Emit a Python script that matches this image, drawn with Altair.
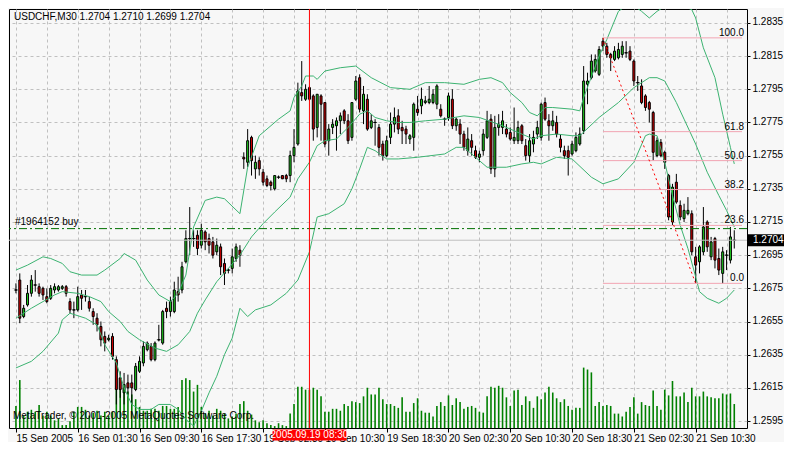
import json
import altair as alt
import pandas as pd

symbol = "USDCHF"
timeframe = "M30"

opens = [1.2674,1.2680,1.2658,1.2665,1.2672,1.2677,1.2676,1.2675,1.2670,1.2669,
1.2674,1.2674,1.2675,1.2676,1.2667,1.2662,1.2662,1.2671,1.2670,1.2667,
1.2661,1.2657,1.2652,1.2646,1.2644,1.2646,1.2632,1.2621,1.2612,1.2618,
1.2618,1.2614,1.2625,1.2630,1.2638,1.2640,1.2632,1.2644,1.2642,1.2663,
1.2661,1.2661,1.2673,1.2674,1.2691,1.2705,1.2705,1.2707,1.2701,1.2709,
1.2705,1.2703,1.2697,1.2700,1.2690,1.2686,1.2687,1.2693,1.2698,1.2754,
1.2751,1.2766,1.2747,1.2752,1.2745,1.2741,1.2739,1.2735,1.2742,1.2743,
1.2743,1.2743,1.2755,1.2762,1.2793,1.2789,1.2796,1.2791,1.2772,1.2791,
1.2787,1.2764,1.2772,1.2773,1.2776,1.2782,1.2776,1.2766,1.2789,1.2802,
1.2782,1.2789,1.2772,1.2775,1.2772,1.2762,1.2755,1.2766,1.2774,1.2779,
1.2772,1.2771,1.2765,1.2766,1.2783,1.2785,1.2787,1.2787,1.2787,1.2786,
1.2783,1.2777,1.2778,1.2789,1.2773,1.2774,1.2768,1.2758,1.2764,1.2758,
1.2754,1.2758,1.2766,1.2777,1.2747,1.2772,1.2772,1.2771,1.2769,1.2764,
1.2764,1.2773,1.2761,1.2755,1.2762,1.2768,1.2766,1.2787,1.2776,1.2773,
1.2775,1.2765,1.2758,1.2758,1.2756,1.2758,1.2762,1.2770,1.2798,1.2802,
1.2806,1.2804,1.2824,1.2821,1.2816,1.2813,1.2814,1.2816,1.2817,1.2818,
1.2812,1.2799,1.2797,1.2791,1.2787,1.2781,1.2755,1.2763,1.2757,1.2743,
1.2715,1.2739,1.2725,1.2717,1.2720,1.2720,1.2694,1.2691,1.2697,1.2715,
1.2694,1.2705,1.2693,1.2684,1.2695,1.2692,1.2704]

highs = [1.2678,1.2684,1.2665,1.2677,1.2683,1.2686,1.2678,1.2676,1.2675,1.2677,
1.2678,1.2677,1.2677,1.2677,1.2669,1.2667,1.2676,1.2674,1.2674,1.2670,
1.2663,1.2660,1.2655,1.2649,1.2647,1.2648,1.2634,1.2625,1.2624,1.2623,
1.2623,1.2630,1.2634,1.2643,1.2643,1.2642,1.2643,1.2653,1.2662,1.2667,
1.2670,1.2679,1.2682,1.2691,1.2710,1.2724,1.2710,1.2710,1.2714,1.2710,
1.2708,1.2706,1.2705,1.2702,1.2693,1.2687,1.2699,1.2702,1.2701,1.2757,
1.2771,1.2767,1.2755,1.2754,1.2747,1.2743,1.2740,1.2743,1.2743,1.2743,
1.2744,1.2758,1.2771,1.2799,1.2812,1.2798,1.2797,1.2792,1.2792,1.2792,
1.2787,1.2774,1.2777,1.2778,1.2781,1.2783,1.2780,1.2787,1.2803,1.2804,
1.2797,1.2792,1.2780,1.2777,1.2774,1.2764,1.2767,1.2781,1.2784,1.2783,
1.2776,1.2773,1.2768,1.2787,1.2791,1.2796,1.2791,1.2797,1.2795,1.2798,
1.2786,1.2778,1.2793,1.2795,1.2778,1.2777,1.2770,1.2772,1.2768,1.2761,
1.2758,1.2771,1.2782,1.2780,1.2779,1.2780,1.2782,1.2774,1.2772,1.2784,
1.2776,1.2774,1.2765,1.2768,1.2770,1.2776,1.2787,1.2790,1.2780,1.2782,
1.2779,1.2768,1.2761,1.2761,1.2764,1.2769,1.2772,1.2809,1.2805,1.2816,
1.2816,1.2821,1.2826,1.2823,1.2817,1.2821,1.2823,1.2824,1.2824,1.2821,
1.2813,1.2803,1.2801,1.2792,1.2788,1.2782,1.2766,1.2765,1.2758,1.2744,
1.2738,1.2744,1.2728,1.2726,1.2730,1.2722,1.2700,1.2701,1.2724,1.2716,
1.2706,1.2706,1.2699,1.2700,1.2698,1.2712,1.2710]

lows = [1.2672,1.2654,1.2657,1.2664,1.2670,1.2673,1.2670,1.2668,1.2666,1.2668,
1.2672,1.2673,1.2674,1.2670,1.2660,1.2657,1.2661,1.2662,1.2667,1.2661,
1.2653,1.2649,1.2640,1.2637,1.2643,1.2632,1.2605,1.2609,1.2605,1.2611,
1.2605,1.2613,1.2624,1.2628,1.2637,1.2631,1.2631,1.2643,1.2641,1.2657,
1.2658,1.2660,1.2667,1.2672,1.2690,1.2695,1.2700,1.2695,1.2699,1.2698,
1.2696,1.2693,1.2695,1.2683,1.2677,1.2684,1.2684,1.2691,1.2688,1.2747,
1.2748,1.2743,1.2741,1.2743,1.2737,1.2736,1.2734,1.2734,1.2741,1.2741,
1.2739,1.2739,1.2751,1.2761,1.2788,1.2788,1.2788,1.2764,1.2766,1.2764,
1.2760,1.2755,1.2768,1.2758,1.2768,1.2774,1.2762,1.2764,1.2788,1.2781,
1.2774,1.2770,1.2771,1.2761,1.2755,1.2752,1.2754,1.2762,1.2769,1.2768,
1.2762,1.2762,1.2762,1.2758,1.2779,1.2780,1.2786,1.2786,1.2786,1.2783,
1.2778,1.2773,1.2776,1.2771,1.2770,1.2762,1.2758,1.2755,1.2755,1.2753,
1.2751,1.2755,1.2765,1.2744,1.2742,1.2767,1.2768,1.2766,1.2764,1.2762,
1.2762,1.2762,1.2752,1.2751,1.2757,1.2765,1.2764,1.2776,1.2764,1.2770,
1.2766,1.2757,1.2753,1.2743,1.2755,1.2757,1.2761,1.2768,1.2786,1.2801,
1.2805,1.2803,1.2818,1.2814,1.2806,1.2812,1.2813,1.2814,1.2814,1.2812,
1.2797,1.2794,1.2786,1.2782,1.2775,1.2752,1.2754,1.2754,1.2747,1.2716,
1.2713,1.2726,1.2716,1.2715,1.2719,1.2695,1.2678,1.2684,1.2695,1.2697,
1.2692,1.2687,1.2683,1.2678,1.2686,1.2690,1.2699]

closes = [1.2674,1.2657,1.2663,1.2672,1.2680,1.2677,1.2672,1.2671,1.2667,1.2675,
1.2676,1.2676,1.2676,1.2672,1.2662,1.2662,1.2670,1.2669,1.2670,1.2663,
1.2658,1.2653,1.2644,1.2642,1.2645,1.2634,1.2614,1.2614,1.2617,1.2615,
1.2615,1.2628,1.2631,1.2640,1.2642,1.2632,1.2642,1.2644,1.2661,1.2661,
1.2667,1.2674,1.2671,1.2688,1.2705,1.2705,1.2705,1.2699,1.2710,1.2703,
1.2701,1.2695,1.2701,1.2688,1.2684,1.2686,1.2694,1.2700,1.2695,1.2753,
1.2764,1.2752,1.2751,1.2747,1.2739,1.2737,1.2737,1.2743,1.2742,1.2741,
1.2741,1.2755,1.2760,1.2794,1.2791,1.2795,1.2789,1.2771,1.2792,1.2786,
1.2762,1.2771,1.2774,1.2776,1.2779,1.2776,1.2764,1.2787,1.2800,1.2783,
1.2792,1.2771,1.2776,1.2775,1.2760,1.2755,1.2764,1.2774,1.2778,1.2771,
1.2770,1.2768,1.2767,1.2786,1.2781,1.2789,1.2788,1.2789,1.2792,1.2797,
1.2779,1.2777,1.2791,1.2773,1.2777,1.2768,1.2760,1.2765,1.2760,1.2754,
1.2756,1.2768,1.2776,1.2747,1.2772,1.2774,1.2776,1.2768,1.2765,1.2766,
1.2772,1.2764,1.2755,1.2764,1.2766,1.2772,1.2786,1.2777,1.2773,1.2776,
1.2768,1.2760,1.2755,1.2754,1.2762,1.2766,1.2768,1.2800,1.2800,1.2812,
1.2813,1.2819,1.2821,1.2816,1.2814,1.2818,1.2819,1.2821,1.2817,1.2813,
1.2800,1.2799,1.2787,1.2784,1.2783,1.2757,1.2764,1.2755,1.2751,1.2718,
1.2736,1.2727,1.2718,1.2722,1.2722,1.2697,1.2689,1.2700,1.2712,1.2700,
1.2703,1.2692,1.2686,1.2697,1.2695,1.2706,1.2704]

volumes = [230,500,130,170,190,170,240,130,170,130,
80,100,30,30,70,170,220,220,190,130,
160,180,130,170,130,170,500,480,400,380,
350,300,220,180,180,200,200,180,230,230,
200,200,220,500,520,500,380,450,220,150,
180,130,200,180,150,100,120,150,250,280,
180,140,80,60,80,50,30,20,50,30,
20,150,250,430,430,400,400,420,400,330,
170,170,200,200,180,250,230,280,270,260,
330,420,350,350,420,300,250,250,230,210,
320,170,170,260,310,180,160,160,120,230,
270,230,340,240,310,270,200,220,230,210,
170,160,330,430,420,440,420,320,230,390,
400,240,330,280,210,330,300,370,430,370,
310,270,300,230,190,210,210,630,610,580,
230,270,230,240,230,150,150,120,170,220,
320,150,270,240,230,390,230,190,400,340,
490,330,330,370,270,420,330,330,380,330,
320,310,310,360,350,360,250]

# Bollinger bands (20, 2) at sample bars
upper_bars = [0,3,7,9,12,14,17,21,23,27,28,31,34,37,40,42,44,46,49,52,54,58,60,63,68,71,72,74,75,77,
              78,80,84,88,92,97,102,106,111,116,120,123,126,128,131,133,135,137,139,144,146,147,151,153,
              156,159,162,164,166,170,175,176,178,181,183,185,186]
upper_vals = [1.2686,1.2689,1.2694,1.2693,1.2690,1.2685,1.2683,1.2683,1.2686,1.2693,1.2696,1.2692,1.2680,
              1.2671,1.2667,1.2672,1.2683,1.2712,1.2728,1.2730,1.2729,1.2720,1.2748,1.2767,1.2777,1.2782,
              1.2790,1.2797,1.2803,1.2803,1.2801,1.2806,1.2808,1.2809,1.2802,1.2796,1.2795,1.2799,1.2799,
              1.2798,1.2801,1.2802,1.2799,1.2793,1.2787,1.2781,1.2779,1.2784,1.2784,1.2783,1.2782,1.2790,
              1.2815,1.2825,1.2842,1.2847,1.2842,1.2838,1.2842,1.2848,1.2843,1.2838,1.2820,1.2802,1.2780,
              1.2760,1.2750]
middle_bars = [0,4,7,10,12,16,19,22,24,27,29,32,36,39,42,45,47,49,52,55,58,61,64,67,71,73,76,78,80,83,
               86,89,91,93,96,99,102,106,111,116,120,126,131,134,136,140,144,146,151,156,160,164,166,168,
               171,173,176,179,182,184,186]
middle_vals = [1.2657,1.2663,1.2667,1.2671,1.2673,1.2672,1.2670,1.2667,1.2661,1.2655,1.2649,1.2644,1.2639,
               1.2637,1.2641,1.2649,1.2660,1.2668,1.2679,1.2687,1.2695,1.2706,1.2714,1.2721,1.2730,1.2741,
               1.2751,1.2761,1.2764,1.2765,1.2772,1.2780,1.2782,1.2778,1.2776,1.2775,1.2775,1.2776,1.2777,
               1.2779,1.2778,1.2773,1.2768,1.2765,1.2767,1.2768,1.2767,1.2767,1.2778,1.2787,1.2796,1.2802,
               1.2802,1.2800,1.2787,1.2777,1.2762,1.2745,1.2731,1.2722,1.2712]
lower_bars = [0,4,7,11,12,14,18,21,23,26,28,30,32,35,37,40,42,44,46,48,50,52,54,56,58,60,62,66,70,73,
              76,78,81,85,87,89,91,93,96,99,104,111,114,116,119,122,127,131,134,136,140,144,149,152,156,
              160,163,164,166,168,170,172,174,176,177,179,182,184,186]
lower_vals = [1.2627,1.2631,1.2637,1.2648,1.2656,1.2660,1.2657,1.2653,1.2641,1.2630,1.2615,1.2605,1.2602,
              1.2602,1.2605,1.2605,1.2602,1.2596,1.2592,1.2601,1.2612,1.2622,1.2635,1.2645,1.2663,1.2658,
              1.2662,1.2665,1.2672,1.2680,1.2697,1.2718,1.2720,1.2726,1.2735,1.2747,1.2760,1.2758,1.2753,
              1.2753,1.2754,1.2756,1.2760,1.2760,1.2754,1.2748,1.2748,1.2750,1.2751,1.2750,1.2754,1.2753,
              1.2742,1.2738,1.2741,1.2751,1.2767,1.2768,1.2767,1.2751,1.2731,1.2713,1.2699,1.2682,1.2673,
              1.2669,1.2666,1.2669,1.2674]

tick_labels = ["15 Sep 2005", "16 Sep 01:30", "16 Sep 09:30", "16 Sep 17:30", "19 Sep 02:30",
               "19 Sep 10:30", "19 Sep 18:30", "20 Sep 02:30", "20 Sep 10:30", "20 Sep 18:30",
               "21 Sep 02:30", "21 Sep 10:30"]
price_ticks = [1.2595, 1.2615, 1.2635, 1.2655, 1.2675, 1.2695, 1.2715,
               1.2735, 1.2755, 1.2775, 1.2795, 1.2815, 1.2835]

fib_pcts = [0.0, 23.6, 38.2, 50.0, 61.8, 100.0]
fib_low, fib_high = 1.2678, 1.2826
fib_high_bar, fib_low_bar = 152, 176
order_price = 1.2711
order_label = "#1964152 buy"
marker_bar = 76
marker_label = "2005.09.19 08:30"
watermark_text = "MetaTrader, \u00a9 2001-2005 MetaQuotes Software Corp."

# ---------------- layout ----------------
W, H = 738, 419
X_DOMAIN = [-0.5, 188]
Y_DOMAIN = [1.25908, 1.28434]
VOL_DOMAIN = [0, 4370]
FONT = "Liberation Sans"
FS = 10
BG = "#F7F7F7"
GRID = "#C0C0C0"

n = len(closes)
df = pd.DataFrame({"bar": list(range(n)), "open": opens, "high": highs,
                   "low": lows, "close": closes, "volume": volumes})
df["dir"] = ["up" if c > o else ("down" if c < o else "flat") for o, c in zip(opens, closes)]

bands_df = pd.concat([
    pd.DataFrame({"band": "upper", "bar": upper_bars, "value": upper_vals}),
    pd.DataFrame({"band": "middle", "bar": middle_bars, "value": middle_vals}),
    pd.DataFrame({"band": "lower", "bar": lower_bars, "value": lower_vals}),
])

fib_df = pd.DataFrame({
    "price": [fib_low + p / 100.0 * (fib_high - fib_low) for p in fib_pcts],
    "label": [f"{p:.1f}" for p in fib_pcts],
    "start": fib_high_bar,
    "end": X_DOMAIN[1],
})
trend_df = pd.DataFrame({"bar": [fib_high_bar, fib_low_bar], "price": [fib_high, fib_low]})
cur_df = pd.DataFrame({"price": [closes[-1]], "label": [f"{closes[-1]:.4f}"]})
order_df = pd.DataFrame({"price": [order_price], "label": [order_label]})
marker_df = pd.DataFrame({"bar": [marker_bar], "label": [marker_label]})
header_df = pd.DataFrame({"text": [f"{symbol},{timeframe}  {opens[-1]:.4f} {highs[-1]:.4f} "
                                   f"{lows[-1]:.4f} {closes[-1]:.4f}"]})
wm_df = pd.DataFrame({"text": [watermark_text]})

xscale = alt.Scale(domain=X_DOMAIN, nice=False, zero=False)
yscale = alt.Scale(domain=Y_DOMAIN, nice=False, zero=False)

label_expr = ("datum.value % 16 === 0 && datum.value / 16 < " + str(len(tick_labels)) +
              " ? " + json.dumps(tick_labels) + "[datum.value / 16] : ''")

xaxis = alt.Axis(values=list(range(0, 188, 8)), labelExpr=label_expr, title=None,
                 grid=True, gridColor=GRID, gridDash=[3, 3], domain=False,
                 tickSize=4, tickColor="black",
                 tickOpacity={"condition": {"test": "datum.value % 16 === 0", "value": 1}, "value": 0},
                 labelAlign="left", labelBaseline="top", labelPadding=1,
                 labelFlush=False, labelOverlap=False, labelBound=False,
                 labelFont=FONT, labelFontSize=FS, labelColor="black")
yaxis = alt.Axis(orient="right", values=price_ticks, format=".4f", title=None,
                 grid=True, gridColor=GRID, gridDash=[3, 3], domain=False,
                 tickSize=3, tickColor="black", labelPadding=2, labelOffset=-1,
                 labelFlush=False, labelOverlap=False,
                 labelFont=FONT, labelFontSize=FS, labelColor="black")


def X(field="bar"):
    return alt.X(f"{field}:Q", scale=xscale, axis=xaxis)


def Y(field):
    return alt.Y(f"{field}:Q", scale=yscale, axis=yaxis)


vol = alt.Chart(df).mark_bar(size=1.6, color="#008000").encode(
    x=X(), y=alt.Y("volume:Q", scale=alt.Scale(domain=VOL_DOMAIN, nice=False), axis=None))

wicks = alt.Chart(df).mark_rule(color="black", strokeWidth=1).encode(x=X(), y=Y("low"), y2="high")
bodies = alt.Chart(df).mark_bar(size=2, stroke="black", strokeWidth=1).encode(
    x=X(), y=Y("open"), y2="close",
    fill=alt.Fill("dir:N", scale=alt.Scale(domain=["up", "down", "flat"],
                                           range=["#1FCF1F", "#D00000", "#000000"]), legend=None))
dojis = alt.Chart(df[df["dir"] == "flat"]).mark_tick(orient="horizontal", size=4, thickness=1,
                                                     color="black").encode(x=X(), y=Y("open"))

bands = alt.Chart(bands_df).mark_line(color="#3CB371", strokeWidth=1, clip=True).encode(
    x=X(), y=Y("value"), detail="band:N")

fib_lines = alt.Chart(fib_df).mark_rule(color="#F2A5B3", strokeWidth=1).encode(
    x=X("start"), x2="end", y=Y("price"))
fib_text = alt.Chart(fib_df).mark_text(align="right", baseline="alphabetic", dy=-2, font=FONT,
                                       fontSize=FS, color="black").encode(
    x=alt.value(W - 3), y=Y("price"), text="label:N")
trend = alt.Chart(trend_df).mark_line(color="#FF0000", strokeDash=[2, 3], strokeWidth=1).encode(
    x=X(), y=Y("price"))

price_line = alt.Chart(cur_df).mark_rule(color="#C0C0C0", strokeWidth=1).encode(y=Y("price"))
buy_line = alt.Chart(order_df).mark_rule(color="#007000", strokeWidth=1,
                                         strokeDash=[8, 3, 2, 3]).encode(y=Y("price"))
buy_text = alt.Chart(order_df).mark_text(align="left", baseline="alphabetic", dy=-4, font=FONT,
                                         fontSize=FS, color="black").encode(
    x=alt.value(6), y=Y("price"), text="label:N")

vline = alt.Chart(marker_df).mark_rule(color="#FF0000", strokeWidth=1).encode(x=X())
vbox = alt.Chart(marker_df).mark_rule(color="#FF0000", strokeWidth=11, xOffset=-37, x2Offset=37).encode(
    x=X(), x2="bar", y=alt.value(H + 7))
vtext = alt.Chart(marker_df).mark_text(color="white", font=FONT, fontSize=FS, align="center",
                                       baseline="middle").encode(
    x=X(), y=alt.value(H + 7), text="label:N")

pbox = alt.Chart(cur_df).mark_rule(color="black", strokeWidth=12).encode(
    x=alt.value(W + 1), x2=alt.value(W + 37), y=Y("price"))
ptext = alt.Chart(cur_df).mark_text(color="white", font=FONT, fontSize=FS, align="left",
                                    baseline="middle").encode(
    x=alt.value(W + 6), y=Y("price"), text="label:N")

header = alt.Chart(header_df).mark_text(align="left", baseline="middle", font=FONT, fontSize=FS,
                                        color="black").encode(
    x=alt.value(5), y=alt.value(8), text="text:N")
wm = alt.Chart(wm_df).mark_text(align="left", baseline="middle", font=FONT, fontSize=FS,
                                color="black").encode(
    x=alt.value(4), y=alt.value(H - 12), text="text:N")

price_layers = alt.layer(wicks, bodies, dojis, bands, fib_lines, trend, price_line, buy_line, vline,
                         fib_text, buy_text, header, wm, vbox, vtext, pbox, ptext)

chart = alt.layer(vol, price_layers).resolve_scale(y="independent").properties(
    width=W, height=H,
    padding={"left": 1, "top": 1, "right": 37, "bottom": 14},
    autosize=alt.AutoSizeParams(type="none"),
    background=BG,
).configure_view(stroke="black", strokeWidth=1, fill=BG)

chart.save("out.html", embed_options={"renderer": "svg", "actions": False})
